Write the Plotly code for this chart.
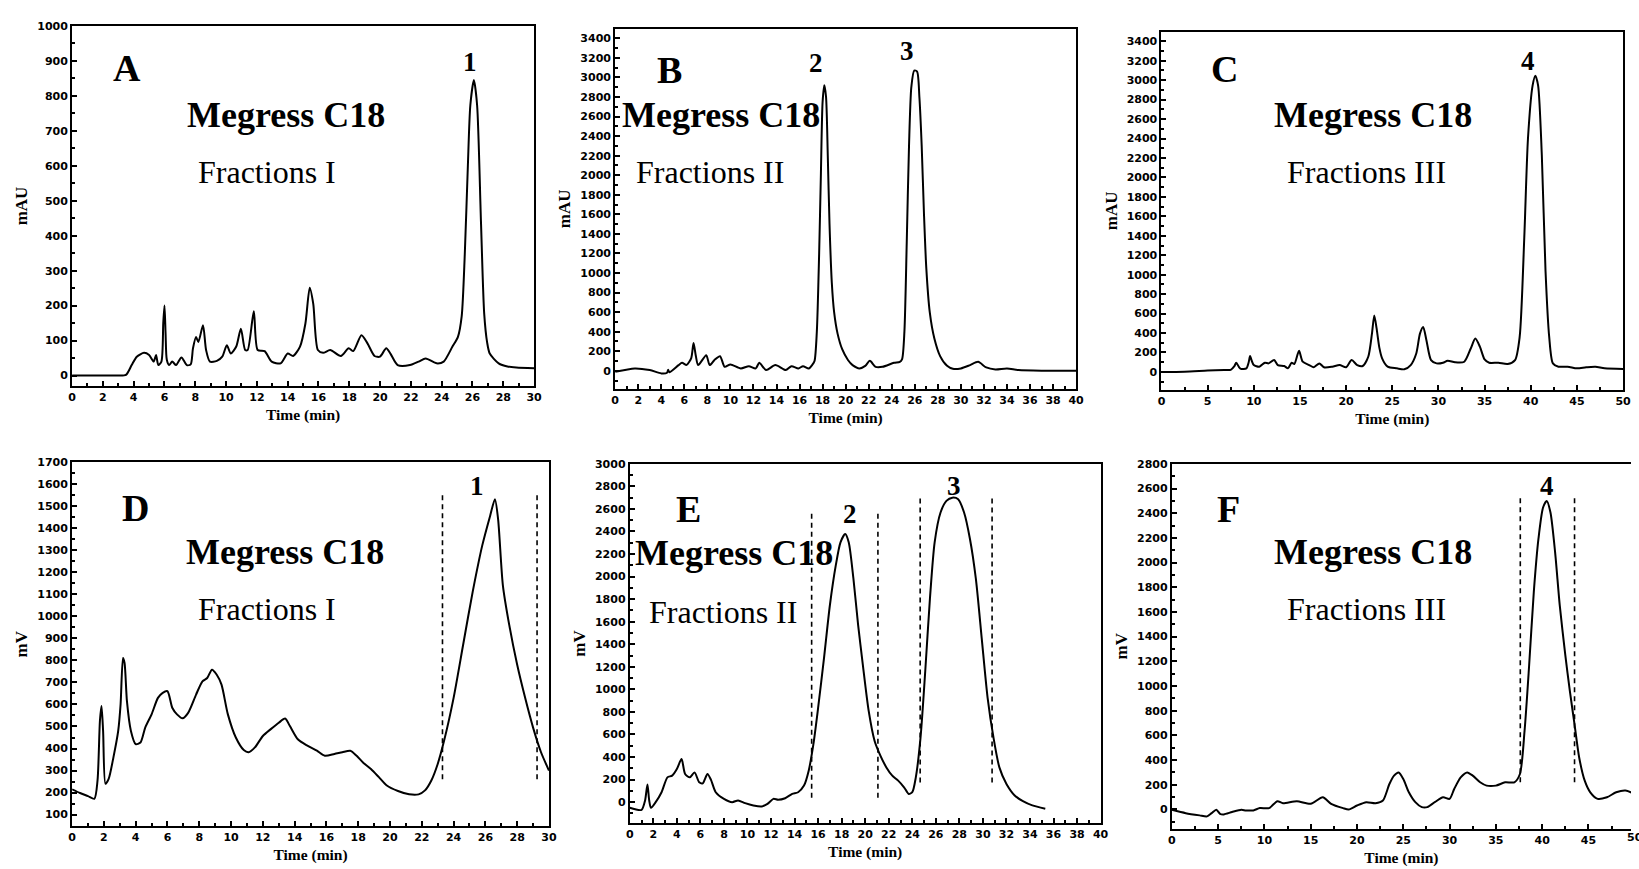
import plotly.graph_objects as go

W, H = 1639, 869

# ---------------- data ----------------
# Panel A : analytical, Fractions I (mAU)
a_time = [0, 1, 2, 3, 3.5, 3.87, 4.2, 4.67, 5.0, 5.3, 5.45, 5.6, 5.8, 5.92, 6.0, 6.07, 6.15, 6.3, 6.5, 6.75,
          7.1, 7.45, 7.7, 7.85, 8.05, 8.2, 8.5, 8.7, 8.95, 9.4, 9.75, 10.05, 10.3, 10.66, 10.96, 11.24, 11.4,
          11.8, 12.05, 12.5, 12.96, 13.54, 14.0, 14.35, 14.8, 15.15, 15.43, 15.66, 15.96, 16.3, 16.76, 17.45,
          17.96, 18.26, 18.79, 19.18, 19.64, 19.99, 20.4, 20.68, 21.14, 21.94, 22.5, 22.96, 23.67, 24.13, 24.7,
          25.05, 25.3, 25.5, 25.7, 25.86, 26.09, 26.3, 26.55, 26.76, 26.95, 27.12, 27.7, 28.27, 28.85, 30.0]
a_mau = [0, 0, 0, 0, 2, 30, 54, 65, 59, 40, 59, 30, 40, 150, 200, 120, 45, 30, 40, 30,
         52, 30, 32, 78, 110, 96, 144, 73, 40, 42, 54, 87, 63, 83, 134, 73, 73,
         184, 73, 70, 40, 35, 63, 56, 83, 149, 251, 205, 73, 65, 73, 56,
         78, 70, 115, 92, 56, 54, 78, 62, 30, 30, 40, 49, 35, 40, 83,
         110, 170, 347, 600, 773, 845, 773, 441, 177, 95, 63, 35, 26, 23, 21]

# Panel B : analytical, Fractions II (mAU)
b_time = [0, 1.7, 3, 4, 4.5, 4.6, 4.7, 5.5, 5.8, 6.2, 6.6, 6.8, 7.0, 7.2, 7.9, 8.2, 8.6, 9.1, 9.5, 10,
          10.9, 11.6, 12.2, 12.5, 13.1, 13.9, 14.8, 15.3, 15.9, 16.3, 16.8, 17.1, 17.3, 17.5, 17.7, 17.85,
          18.0, 18.15, 18.3, 18.45, 18.6, 18.8, 19.0, 19.3, 19.7, 20.2, 20.6, 21.2, 21.7, 22.1, 22.6, 23.2,
          24.2, 24.7, 24.9, 25.1, 25.3, 25.5, 25.7, 25.95, 26.2, 26.4, 26.6, 26.8, 27.0, 27.3, 27.7, 28.2,
          28.8, 29.3, 30, 30.8, 31.5, 32.2, 33, 34, 35, 37, 40]
b_mau = [-10, 24, 7, -27, -20, 10, -15, 58, 81, 60, 130, 284, 150, 58, 159, 58, 108, 149, 40, 64,
         24, 47, 24, 81, 7, 58, 7, 47, 24, 47, 24, 60, 100, 400, 1200, 2000,
         2750, 2920, 2800, 2200, 1500, 900, 600, 380, 220, 110, 58, 24, 50, 101, 40, 40,
         81, 91, 120, 400, 1300, 2300, 2900, 3070, 3060, 2800, 2300, 1600, 1050, 600, 330, 150,
         50, 20, 24, 58, 91, 34, 14, 24, 7, 0, 0]

# Panel C : analytical, Fractions III (mAU)
c_time = [0, 2.5, 5, 6.8, 7.5, 7.9, 8.1, 8.4, 8.6, 9.2, 9.45, 9.6, 9.8, 10.0, 10.6, 11.2, 11.6, 12.2, 12.6,
          13.3, 13.7, 14.1, 14.4, 14.9, 15.3, 16, 16.5, 17.1, 17.6, 18.5, 19.3, 20, 20.6, 21.2, 21.8, 22.4,
          22.8, 23.05, 23.3, 23.6, 23.9, 24.5, 25.5, 26.3, 27, 27.6, 28.0, 28.35, 28.7, 29.2, 29.8, 30.5,
          31.0, 31.8, 32.8, 33.5, 34.0, 34.5, 35, 35.5, 36.5, 37.5, 38.3, 38.8, 39.3, 39.7, 40.2, 40.5,
          40.8, 41.2, 41.6, 42, 42.4, 43, 44, 45, 46, 47, 48, 50]
c_mau = [0, 3, 14, 20, 22, 60, 95, 50, 31, 37, 100, 163, 110, 71, 54, 95, 88, 122, 71,
         61, 37, 95, 82, 218, 105, 71, 48, 88, 48, 54, 71, 48, 122, 71, 61, 156,
         394, 581, 450, 250, 140, 54, 37, 27, 71, 190, 394, 462, 326, 122, 88, 95,
         116, 100, 105, 241, 343, 258, 129, 95, 95, 82, 122, 360, 1380, 2400, 2944, 3046,
         2944, 2230, 1040, 360, 88, 54, 54, 37, 48, 54, 37, 31]

# Panel D : preparative, Fractions I (mV)
d_time = [0, 0.5, 1.0, 1.4, 1.6, 1.75, 1.85, 1.95, 2.1, 2.3, 2.6, 2.9, 3.05, 3.2, 3.3, 3.45, 3.7, 4.0, 4.3,
          4.6, 5.0, 5.4, 5.7, 6.0, 6.3, 6.6, 6.95, 7.3, 7.8, 8.2, 8.5, 8.8, 9.1, 9.4, 9.8, 10.3, 10.8, 11.1,
          11.5, 12.0, 12.5, 13.0, 13.4, 13.7, 14.2, 14.8, 15.4, 15.9, 16.5, 17.0, 17.5, 17.9, 18.3, 18.8,
          19.3, 19.8, 20.5, 21.2, 21.8, 22.2, 22.6, 23.0, 23.4, 24.0, 24.6, 25.2, 25.8, 26.3, 26.6, 26.8,
          27.1, 27.5, 28.0, 28.5, 29.0, 29.5, 30]
d_mv = [215, 198, 184, 172, 255, 525, 593, 480, 240, 262, 360, 480, 600, 811, 788, 615, 480, 420, 427,
        495, 555, 630, 653, 660, 585, 555, 537, 562, 645, 705, 720, 758, 735, 690, 555, 450, 393, 383,
        405, 457, 488, 517, 536, 502, 442, 413, 390, 367, 375, 383, 390, 367, 337, 307,
        270, 232, 207, 192, 192, 210, 255, 330, 435, 630, 871, 1111, 1321, 1457, 1532, 1440,
        1141, 961, 780, 630, 495, 383, 300]

# Panel E : preparative, Fractions II (mV)
e_time = [0, 1.0, 1.3, 1.5, 1.65, 1.8, 2.2, 2.7, 3.2, 3.6, 4.0, 4.4, 4.7, 5.1, 5.5, 5.9, 6.2, 6.6, 6.9, 7.3,
          8.0, 8.7, 9.2, 9.8, 10.5, 11.2, 11.7, 12.2, 12.6, 13.2, 13.8, 14.3, 14.8, 15.2, 15.6, 16.0, 16.5,
          17.0, 17.5, 17.9, 18.3, 18.6, 19.0, 19.4, 19.8, 20.3, 20.8, 21.3, 21.8, 22.3, 22.8, 23.3, 23.7,
          24.0, 24.3, 24.7, 25.1, 25.5, 25.9, 26.4, 26.9, 27.4, 27.9, 28.4, 28.9, 29.4, 29.9, 30.4, 30.9,
          31.4, 32.0, 32.7, 33.4, 34.2, 35.3]
e_mv = [-50, -68, 15, 156, 15, -50, 0, 88, 220, 235, 294, 382, 250, 220, 264, 176, 167, 250, 197, 88,
        29, 0, 15, -9, -29, -38, -15, 29, 21, 35, 73, 88, 147, 279, 514, 836, 1277,
        1746, 2099, 2304, 2377, 2304, 1981, 1570, 1218, 807, 543, 411, 308, 235, 191, 132, 73,
        88, 220, 572, 1159, 1805, 2304, 2568, 2671, 2700, 2686, 2568, 2333, 1981, 1453, 925, 572,
        308, 161, 59, 9, -29, -59]

# Panel F : preparative, Fractions III (mV)
f_time = [0, 1.5, 3, 3.8, 4.3, 4.8, 5.2, 5.6, 6.5, 7.5, 8.0, 8.8, 9.5, 10.5, 11.4, 12.0, 13.5, 15, 16.3,
          17.2, 18.5, 19.1, 20, 21, 22, 22.8, 23.5, 24.0, 24.5, 25.0, 25.6, 26.3, 27.0, 27.6, 28.4, 29.3,
          30.0, 30.5, 31.2, 31.9, 32.5, 33.3, 34, 35, 36, 37.0, 37.6, 38.1, 38.6, 39.1, 39.6, 40.1, 40.5,
          40.9, 41.4, 41.9, 42.5, 43.0, 43.5, 44.0, 44.6, 45.2, 46.0, 47.0, 48.0, 49.0, 50]
f_mv = [-3, -30, -48, -56, -30, -3, -35, -40, -21, -3, -8, -8, 11, 11, 67, 51, 67, 46, 99,
        46, 11, 0, 32, 59, 51, 72, 206, 274, 300, 247, 139, 59, 19, 19, 59, 99,
        86, 166, 260, 300, 274, 220, 193, 193, 220, 220, 287, 636, 1172, 1762, 2191, 2446, 2499,
        2405, 2084, 1655, 1252, 957, 689, 421, 233, 139, 86, 99, 139, 153, 126]

# fraction-collection cut lines (time, lower and upper end of the dashed marker)
d_cut_time = [23.3, 29.25]
d_cut_low = [260, 260]
d_cut_high = [1565, 1565]
e_cut_time = [15.45, 21.08, 24.67, 30.78]
e_cut_low = [40, 40, 175, 175]
e_cut_high = [2570, 2570, 2700, 2700]
f_cut_time = [37.64, 43.5]
f_cut_low = [220, 220]
f_cut_high = [2550, 2550]

panel_letters = ["A", "B", "C", "D", "E", "F"]
fraction_names = ["Fractions I", "Fractions II", "Fractions III",
                  "Fractions I", "Fractions II", "Fractions III"]
column_name = "Megress C18"
y_titles = ["mAU", "mAU", "mAU", "mV", "mV", "mV"]
x_title = "Time (min)"

for xs, ys in [(a_time, a_mau), (b_time, b_mau), (c_time, c_mau),
               (d_time, d_mv), (e_time, e_mv), (f_time, f_mv)]:
    assert len(xs) == len(ys), (len(xs), len(ys))

# ---------------- layout helpers ----------------
def fx(p):
    return p / W

def fy(p):
    return 1 - p / H

# plot-area rectangles in pixels: (left, right, top, bottom)
rects = [(68.6, 534, 20, 382.7), (615.7, 1080, 22.7, 385.7), (1166, 1631, 25.7, 386.7),
         (68.6, 549, 459.3, 826), (630.4, 1104.7, 461, 822.7), (1176.5, 1639, 461, 828.3)]
xranges = [[0, 30], [0, 40], [0, 50], [0, 30], [0, 40], [0, 49.6]]
yranges = [[-30, 1000], [-187, 3500], [-186, 3500], [47, 1700], [-185, 3000], [-155, 2800]]
xdt = [2, 2, 5, 2, 2, 5]
ydt = [100, 200, 200, 100, 200, 200]

series = [(a_time, a_mau), (b_time, b_mau), (c_time, c_mau),
          (d_time, d_mv), (e_time, e_mv), (f_time, f_mv)]

fig = go.Figure()

tickfont = dict(family="DejaVu Sans", size=11, color="black", weight="bold")
xtitlefont = dict(family="Liberation Serif", size=15.5, color="black", weight="bold")
ytitlefont = dict(family="Liberation Serif", size=17, color="black", weight="bold")

for i, (xs, ys) in enumerate(series):
    n = i + 1
    xa = "x" if n == 1 else f"x{n}"
    ya = "y" if n == 1 else f"y{n}"
    fig.add_trace(go.Scatter(x=xs, y=ys, mode="lines", xaxis=xa, yaxis=ya,
                             line=dict(color="black", width=2, shape="spline", smoothing=0.7),
                             hoverinfo="skip", showlegend=False))
    l, r, t, b = rects[i]
    xkey = "xaxis" if n == 1 else f"xaxis{n}"
    ykey = "yaxis" if n == 1 else f"yaxis{n}"
    fig.layout[xkey] = dict(
        domain=[fx(l), fx(r)], range=xranges[i], anchor=ya,
        showline=True, linecolor="black", linewidth=2, mirror=True,
        ticks="inside", ticklen=5, tickwidth=1.5, tickcolor="black",
        tickmode="linear", tick0=0, dtick=xdt[i],
        minor=dict(ticks="inside", ticklen=3, tickwidth=1.5, tickcolor="black", dtick=xdt[i] / 2),
        showgrid=False, zeroline=False, tickfont=tickfont,
        title=dict(text=x_title, font=xtitlefont, standoff=6))
    fig.layout[ykey] = dict(
        domain=[fy(b), fy(t)], range=yranges[i], anchor=xa,
        showline=True, linecolor="black", linewidth=2, mirror=(n != 6),
        ticks="inside", ticklen=5, tickwidth=1.5, tickcolor="black",
        tickmode="linear", tick0=0, dtick=ydt[i], tickformat="d",
        minor=dict(ticks="inside", ticklen=3, tickwidth=1.5, tickcolor="black", dtick=ydt[i] / 2),
        showgrid=False, zeroline=False, tickfont=tickfont,
        title=dict(text=y_titles[i], font=ytitlefont, standoff=5))

# dashed fraction-cut markers
cuts = [(4, d_cut_time, d_cut_low, d_cut_high),
        (5, e_cut_time, e_cut_low, e_cut_high),
        (6, f_cut_time, f_cut_low, f_cut_high)]
for n, ts, lo, hi in cuts:
    for t_, l_, h_ in zip(ts, lo, hi):
        fig.add_trace(go.Scatter(x=[t_, t_], y=[l_, h_], mode="lines",
                                 xaxis=f"x{n}", yaxis=f"y{n}",
                                 line=dict(color="black", width=1.6, dash="5px,4px"),
                                 hoverinfo="skip", showlegend=False))

# ---------------- text annotations (pixel centres) ----------------
letter_pos = [(124, 62), (670, 64), (1229, 63), (132, 505), (690, 506), (1234, 506)]
meg_pos = [(284, 110), (722, 110), (1379, 110), (283, 550), (735, 551), (1379, 550)]
frac_pos = [(265, 167), (711, 167), (1373, 167), (265, 607), (724, 610), (1373, 607)]
peak_labels = [("1", 469, 56), ("2", 818, 57), ("3", 910, 45), ("4", 1535, 55),
               ("1", 476, 483), ("2", 852, 512), ("3", 957, 483), ("4", 1554, 483)]

serif_b = "Liberation Serif"
ann = []
for i in range(6):
    ann.append(dict(text=panel_letters[i], x=fx(letter_pos[i][0]), y=fy(letter_pos[i][1]),
                    xref="paper", yref="paper", showarrow=False, xanchor="center", yanchor="middle",
                    font=dict(family=serif_b, size=38, color="black", weight="bold")))
    ann.append(dict(text=column_name, x=fx(meg_pos[i][0]), y=fy(meg_pos[i][1]),
                    xref="paper", yref="paper", showarrow=False, xanchor="center", yanchor="middle",
                    font=dict(family=serif_b, size=36, color="black", weight="bold")))
    ann.append(dict(text=fraction_names[i], x=fx(frac_pos[i][0]), y=fy(frac_pos[i][1]),
                    xref="paper", yref="paper", showarrow=False, xanchor="center", yanchor="middle",
                    font=dict(family=serif_b, size=32, color="black")))
for txt, x_, y_ in peak_labels:
    ann.append(dict(text=txt, x=fx(x_), y=fy(y_), xref="paper", yref="paper", showarrow=False,
                    xanchor="center", yanchor="middle",
                    font=dict(family=serif_b, size=27, color="black", weight="bold")))
# the last tick label of panel F runs off the page edge
ann.append(dict(text="50", x=fx(1643), y=fy(837), xref="paper", yref="paper", showarrow=False,
                xanchor="center", yanchor="middle", font=tickfont))

fig.update_layout(width=W, height=H, margin=dict(l=0, r=0, t=0, b=0),
                  paper_bgcolor="white", plot_bgcolor="white", annotations=ann,
                  showlegend=False)

fig.write_html("out.html", config={"displayModeBar": False},
               post_script="document.body.style.margin='0';document.body.style.overflow='hidden';")
